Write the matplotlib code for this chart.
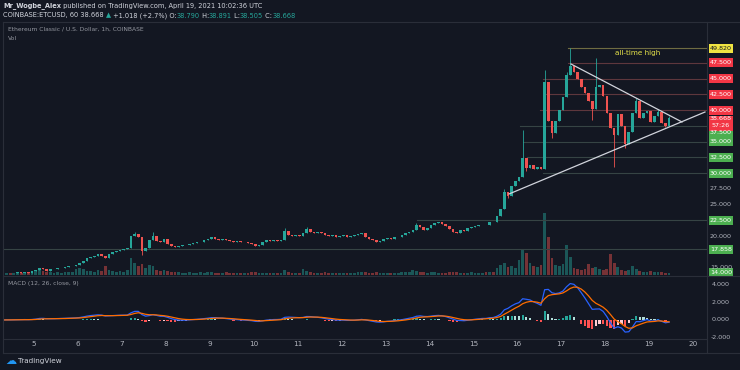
import numpy as np
import pandas as pd
import matplotlib
matplotlib.use("Agg")
import matplotlib.pyplot as plt
from matplotlib.patches import Rectangle
from matplotlib.lines import Line2D
from matplotlib import transforms

# ---- data (ETC/USD, 2h candles) ----
first_day = 4.29      # day of month of the first candle
candles_per_day = 12

closes = [
    14.1, 14.2, 14.1, 14.2, 14.3, 14.2, 14.3, 14.2, 14.4, 14.6, 15.0, 14.8,
    14.5, 14.7, 14.8, 14.9, 15.0, 15.1, 15.2, 15.3, 15.4, 15.7, 16.1, 16.5,
    16.7, 16.9, 17.1, 16.9, 16.5, 17.2, 17.4, 17.6, 17.8, 17.9, 18.1, 20.0,
    20.3, 19.9, 17.6, 18.1, 19.4, 20.0, 19.2, 19.0, 19.5, 18.8, 18.4, 18.3,
    18.4, 18.5, 18.6, 18.8, 18.9, 19.0, 19.1, 19.3, 19.5, 19.8, 19.6, 19.4,
    19.5, 19.3, 19.2, 19.1, 19.2, 19.0, 19.1, 18.9, 18.8, 18.4, 18.6, 19.1,
    19.3, 19.2, 19.3, 19.2, 19.4, 20.8, 20.2, 20.0, 20.1, 20.0, 20.4, 21.1,
    20.7, 20.5, 20.6, 20.4, 20.2, 20.0, 20.1, 19.9, 20.0, 20.1, 19.9, 20.0,
    20.1, 20.3, 20.5, 19.9, 19.6, 19.4, 19.1, 19.2, 19.5, 19.7, 19.6, 19.8,
    19.9, 20.1, 20.4, 20.6, 21.0, 21.7, 21.5, 21.0, 21.3, 21.8, 22.1, 22.2,
    21.9, 21.6, 21.1, 20.7, 20.5, 20.9, 20.8, 21.2, 21.4, 21.6, 21.7, 21.8,
    21.7, 22.3, 22.2, 23.2, 24.3, 27.0, 26.4, 28.0, 28.8, 29.4, 32.4, 30.8,
    31.2, 30.6, 31.0, 30.7, 44.5, 38.2, 36.3, 38.2, 40.0, 42.0, 45.5, 47.0,
    46.0, 44.9, 43.6, 42.7, 41.5, 40.2, 43.6, 43.9, 42.2, 39.6, 37.2, 36.0,
    39.4, 37.5, 34.6, 36.5, 39.6, 41.5, 38.7, 39.6, 39.8, 38.1, 39.0, 39.7,
    38.0, 37.5, 38.668,
]

volumes = [
    2, 2, 1.5, 2, 2, 1.5, 2, 2, 2.5, 4, 5, 4,
    3, 2.5, 2, 3, 2, 2.5, 3, 3, 6, 7, 6, 4,
    4, 3, 5, 4, 9, 5, 4, 3, 4, 3, 5, 17,
    12, 9, 11, 7, 10, 9, 5, 4, 5, 4, 3, 3,
    3, 2, 2, 2.5, 2, 2, 3, 2, 2.5, 3, 2, 2,
    2, 2.5, 2, 2, 1.5, 2, 2, 2, 2.5, 3, 2, 2,
    2, 1.5, 2, 2, 2, 5, 3, 2, 2, 2, 6, 4,
    3, 2, 2, 2, 2.5, 2, 2, 1.5, 2, 2, 2, 2,
    2, 2.5, 3, 2.5, 2, 2, 2.5, 2, 2, 2, 1.5, 2,
    2, 2.5, 3, 3, 5, 4, 3, 2.5, 2, 3, 2.5, 2,
    2, 2, 3, 3, 2.5, 2, 2, 2, 2.5, 2, 2, 2,
    2.5, 3, 3, 7, 10, 12, 8, 9, 7, 15, 25, 22,
    12, 9, 8, 10, 62, 38, 17, 10, 9, 11, 30, 18,
    7, 6, 5, 6, 11, 7, 8, 6, 5, 6, 21, 12,
    8, 5, 4, 5, 9, 6, 4, 3, 3, 4, 3, 2.5,
    3, 2, 2,
]

# visible wicks (candle index -> price)
wick_high = {36: 20.6, 41: 20.6, 77: 21.3, 83: 21.4, 113: 22.0, 137: 27.5,
             142: 36.8, 148: 46.3, 154: 46.0, 155: 49.82, 162: 48.2,
             173: 41.9, 179: 40.2, 182: 39.0}
wick_low = {38: 17.0, 138: 26.0, 143: 30.3, 150: 35.5, 161: 38.4,
            167: 31.0, 170: 34.0, 181: 37.3}

day_ticks = list(range(5, 21))

# drawn horizontal levels: price, first day, colour kind
hline_levels = [49.82, 47.5, 45.0, 42.5, 40.0, 37.5, 35.0, 32.5, 30.0, 22.5, 17.858]
hline_start = [17.16, 17.16, 16.59, 16.63, 16.52, 16.06, 16.13, 16.22, 16.59, 13.72, 4.0]
hline_kind = ["ath", "res", "res", "res", "res", "sup", "sup", "sup", "sup", "sup", "sup"]

# triangle trend lines
upper_tl_days = [17.224, 19.751]
upper_tl_prices = [47.3, 38.1]
lower_tl_days = [15.813, 20.274]
lower_tl_prices = [26.67, 39.68]

# price-scale labels
gray_labels = [27.5, 25.0, 20.0, 15.0]
macd_labels = [4.0, 2.0, 0.0, -2.0]

# ---- styling ----
BG = "#131722"
GRID = "#2a2e39"
TXT = "#b2b5be"
UP = "#26a69a"
DN = "#ef5350"
RED_BOX = "#f23645"
GREEN_BOX = "#4caf50"
YELLOW_BOX = "#f0e442"

W, H = 740, 370


def fx(px):
    return px / W


def fy(py):
    return 1 - py / H


fig = plt.figure(figsize=(7.4, 3.7), dpi=100, facecolor=BG)

rect_main = [fx(3), fy(275), fx(707) - fx(3), fy(22) - fy(275)]
axv = fig.add_axes(rect_main, facecolor=BG)
ax = fig.add_axes(rect_main, facecolor="none")
axm = fig.add_axes([fx(3), fy(338), fx(707) - fx(3), fy(276) - fy(338)], facecolor=BG)

xlim = (4.294, 20.32)
for a in (axv, ax, axm):
    a.set_xlim(*xlim)
    for s in a.spines.values():
        s.set_visible(False)
    a.tick_params(length=0)
    a.set_yticks([])
axv.set_xticks([])
ax.set_xticks([])

n = len(closes)
days = first_day + np.arange(n) / candles_per_day
c = np.array(closes)
o = np.r_[c[0] - 0.1, c[:-1]]
up = c >= o
col = np.where(up, UP, DN)

# volume
vol = np.array(volumes)
axv.bar(days, vol, width=0.75 / candles_per_day, color=col, alpha=0.45, lw=0)
axv.set_ylim(0, vol.max() * 4.08)

# candles
body_lo = np.minimum(o, c)
body_hi = np.maximum(o, c)
hi = body_hi.copy()
lo = body_lo.copy()
for k, v in wick_high.items():
    hi[k] = max(hi[k], v)
for k, v in wick_low.items():
    lo[k] = min(lo[k], v)
ax.set_ylim(13.81, 53.97)
ax.vlines(days, lo, hi, colors=col, lw=0.6, zorder=3)
ax.bar(days, np.maximum(body_hi - body_lo, 0.08), bottom=body_lo,
       width=0.72 / candles_per_day, color=col, lw=0, zorder=4)

# horizontal levels
kind_color = {"ath": "#6f6c42", "res": "#5e373d", "sup": "#364444"}
for lev, d0, kd in zip(hline_levels, hline_start, hline_kind):
    ax.plot([d0, xlim[1]], [lev, lev], color=kind_color[kd], lw=0.8, zorder=2)

ax.plot(upper_tl_days, upper_tl_prices, color="#d1d4dc", lw=0.9, zorder=5)
ax.plot(lower_tl_days, lower_tl_prices, color="#d1d4dc", lw=0.9, zorder=5)
ax.text(18.75, 49.1, "all-time high", color="#e6e34a", fontsize=5.2,
        ha="center", va="center", zorder=6)

# MACD (computed on the 2h closes, spans halved to match 1h 12/26/9)
s = pd.Series(closes)
macd = s.ewm(span=6, adjust=False).mean() - s.ewm(span=13, adjust=False).mean()
signal = macd.ewm(span=5, adjust=False).mean()
hist = (macd - signal).values
prev = np.r_[0, hist[:-1]]
hcol = np.where(hist >= 0, np.where(hist > prev, "#26a69a", "#b2dfdb"),
                np.where(hist > prev, "#ffcdd2", "#ff5252"))
axm.set_ylim(-2.05, 5.0)
axm.bar(days, hist, width=0.6 / candles_per_day, color=hcol, lw=0)
axm.plot(days, macd.values, color="#2962ff", lw=0.9)
axm.plot(days, signal.values, color="#ff6d00", lw=0.9)
axm.set_xticks(day_ticks)
axm.set_xticklabels([str(d) for d in day_ticks], color=TXT, fontsize=5.2)
axm.tick_params(axis="x", pad=2.5)

# price scale labels
bt = transforms.blended_transform_factory(fig.transFigure, ax.transData)
px_per_price = (fy(22) - fy(275)) * H / (53.97 - 13.81)
box_h = 9 / px_per_price


def price_box(price, text, fc, tc="white", shift_px=0.0):
    yc = price - shift_px / px_per_price
    fig.patches.append(Rectangle((fx(709), yc - box_h / 2), fx(733) - fx(709), box_h,
                                 transform=bt, facecolor=fc, edgecolor="none"))
    fig.text(fx(721), yc, text, transform=bt, color=tc, fontsize=4.6,
             ha="center", va="center")


for p in gray_labels:
    fig.text(fx(721), p, f"{p:.3f}", transform=bt, color=TXT, fontsize=4.6,
             ha="center", va="center")

price_box(49.82, "49.820", YELLOW_BOX, tc="#131722")
for p in [47.5, 45.0, 42.5, 40.0]:
    price_box(p, f"{p:.3f}", RED_BOX)
price_box(37.5, "37.500", GREEN_BOX, shift_px=7)
for p in [35.0, 32.5, 30.0, 22.5, 17.858]:
    price_box(p, f"{p:.3f}", GREEN_BOX)
price_box(14.0, "14.000", GREEN_BOX, shift_px=-1)

# last price + countdown
last = closes[-1]
yl = last - 2.5 / px_per_price
fig.patches.append(Rectangle((fx(709), yl - 1.5 * box_h / 2 - 0.35 * box_h), fx(733) - fx(709),
                             1.6 * box_h, transform=bt, facecolor=RED_BOX, edgecolor="none"))
fig.text(fx(721), last, f"{last:.3f}", transform=bt, color="white", fontsize=4.6,
         ha="center", va="center")
fig.text(fx(721), last - 7 / px_per_price, "57:26", transform=bt, color="white",
         fontsize=4.6, ha="center", va="center")

bm = transforms.blended_transform_factory(fig.transFigure, axm.transData)
for p in macd_labels:
    fig.text(fx(721), p, f"{p:.3f}", transform=bm, color=TXT, fontsize=4.6,
             ha="center", va="center", clip_on=False)

# frame lines
for seg in [((3, 740), (22, 22)), ((3, 3), (22, 353)), ((3, 740), (353, 353)),
            ((707, 707), (22, 353)), ((3, 740), (275.5, 275.5)), ((3, 707), (338.5, 338.5))]:
    fig.lines.append(Line2D([fx(seg[0][0]), fx(seg[0][1])], [fy(seg[1][0]), fy(seg[1][1])],
                            transform=fig.transFigure, color=GRID, lw=0.8))

# legends inside panes
fig.text(fx(8), fy(29), "Ethereum Classic / U.S. Dollar, 1h, COINBASE", color="#9598a1",
         fontsize=4.3, va="center")
fig.text(fx(8), fy(38), "Vol", color="#9598a1", fontsize=4.3, va="center")
fig.text(fx(8), fy(283), "MACD (12, 26, close, 9)", color="#9598a1", fontsize=4.3, va="center")

# header lines
renderer = fig.canvas.get_renderer()


def text_run(x_px, y_px, pieces, size=4.8):
    x = fx(x_px)
    for txt, color, weight in pieces:
        t = fig.text(x, fy(y_px), txt, color=color, fontsize=size, fontweight=weight,
                     va="center", ha="left")
        bb = t.get_window_extent(renderer)
        x += bb.width / W


WH = "#d1d4dc"
text_run(3, 6, [("Mr_Wogbe_Alex", WH, "bold"),
                (" published on TradingView.com, April 19, 2021 10:02:36 UTC", WH, "normal")])
text_run(3, 15.5, [("COINBASE:ETCUSD, 60 38.668 ", WH, "normal"), ("\u25b2", UP, "normal"),
                   (" +1.018 (+2.7%) O:", WH, "normal"), ("38.790", UP, "normal"),
                   (" H:", WH, "normal"), ("38.891", UP, "normal"),
                   (" L:", WH, "normal"), ("38.505", UP, "normal"),
                   (" C:", WH, "normal"), ("38.668", UP, "normal")])

# TradingView logo
fig.text(fx(5), fy(361), "\u2601", color="#2196f3", fontsize=8, va="center")
fig.text(fx(18), fy(361), "TradingView", color=WH, fontsize=5.2, va="center")

fig.savefig("out.png", dpi=100, facecolor=BG)
